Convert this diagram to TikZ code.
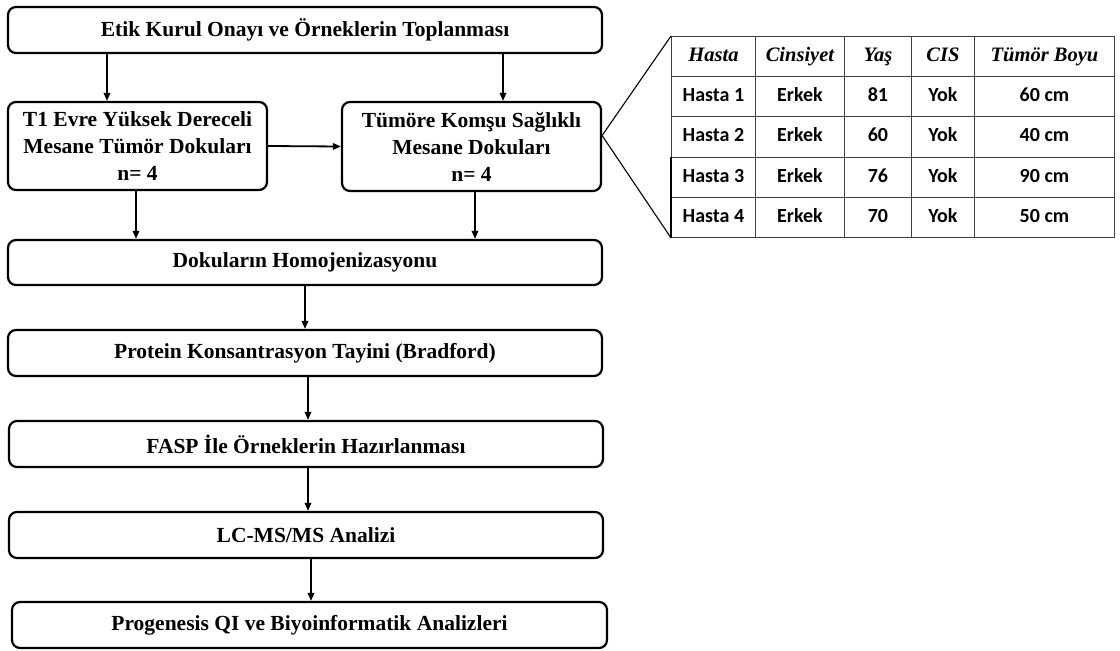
\documentclass[tikz,border=0pt]{standalone}
\usepackage{fontspec}
\setmainfont{Liberation Serif}
\newfontfamily\tabsans{Carlito}
\usetikzlibrary{arrows.meta}
\begin{document}
\begin{tikzpicture}[x=1pt,y=-1pt,
  box/.style={draw, line width=2.2pt, rounded corners=8pt,
    font=\fontsize{21.5}{27}\selectfont\bfseries, align=center, inner sep=0pt},
  arr/.style={line width=1.8pt, -{Triangle[length=8pt,width=6.5pt]}},
  cell/.style={draw=black!75, line width=0.9pt, inner sep=0pt,
    minimum height=40.2pt, text height=14pt, text depth=4pt, anchor=north west},
  hd/.style={cell, font=\fontsize{20.5}{24}\selectfont\bfseries\itshape},
  bd/.style={cell, font=\tabsans\fontsize{20}{24}\selectfont\bfseries},
  link/.style={line width=1.1pt}]
\useasboundingbox (0,0) rectangle (1120,651);

% workflow boxes
\node[box, minimum width=594pt, minimum height=46pt] (etik) at (305,30)
  {Etik Kurul Onayı ve Örneklerin Toplanması};
\node[box, minimum width=259pt, minimum height=88pt] (tumor) at (137.5,146)
  {T1 Evre Yüksek Dereceli\\Mesane Tümör Dokuları\\n= 4};
\node[box, minimum width=259pt, minimum height=89pt] (komsu) at (471.5,146.5)
  {Tümöre Komşu Sağlıklı\\Mesane Dokuları\\n= 4};
\node[box, minimum width=594pt, minimum height=45pt] (homo) at (305,262.5)
  {Dokuların Homojenizasyonu};
\node[box, minimum width=594pt, minimum height=46pt] (prot) at (305,353)
  {Protein Konsantrasyon Tayini (Bradford)};
\node[box, minimum width=594pt, minimum height=46pt] (fasp) at (306,444)
  {FASP İle Örneklerin Hazırlanması};
\node[box, minimum width=594pt, minimum height=46pt] (lcms) at (306,535)
  {LC-MS/MS Analizi};
\node[box, minimum width=595pt, minimum height=46pt] (prog) at (309.5,625)
  {Progenesis QI ve Biyoinformatik Analizleri};

% x positions of the vertical connectors
\coordinate (xa) at (107,0);
\coordinate (xb) at (503,0);
\coordinate (xc) at (136,0);
\coordinate (xd) at (475,0);
\coordinate (xe) at (305,0);
\coordinate (xf) at (308,0);
\coordinate (xg) at (311,0);

\draw[arr] (etik.south -| xa) -- (tumor.north -| xa);
\draw[arr] (etik.south -| xb) -- (komsu.north -| xb);
\draw[arr] (tumor.east) -- (komsu.west);
\draw[arr] (tumor.south -| xc) -- (homo.north -| xc);
\draw[arr] (komsu.south -| xd) -- (homo.north -| xd);
\draw[arr] (homo.south -| xe) -- (prot.north -| xe);
\draw[arr] (prot.south -| xf) -- (fasp.north -| xf);
\draw[arr] (fasp.south -| xf) -- (lcms.north -| xf);
\draw[arr] (lcms.south -| xg) -- (prog.north -| xg);

% patient table
\node[hd, minimum width=84pt]  (h1) at (671,36) {Hasta};
\node[hd, minimum width=89pt]  (h2) at (755,36) {Cinsiyet};
\node[hd, minimum width=67pt]  (h3) at (844,36) {Yaş};
\node[hd, minimum width=63pt]  (h4) at (911,36) {CIS};
\node[hd, minimum width=140pt] (h5) at (974,36) {Tümör Boyu};

\node[bd, minimum width=84pt]  (r1c1) at (671,76.2) {Hasta 1};
\node[bd, minimum width=89pt]  (r1c2) at (755,76.2) {Erkek};
\node[bd, minimum width=67pt]  (r1c3) at (844,76.2) {81};
\node[bd, minimum width=63pt]  (r1c4) at (911,76.2) {Yok};
\node[bd, minimum width=140pt] (r1c5) at (974,76.2) {60 cm};

\node[bd, minimum width=84pt]  (r2c1) at (671,116.4) {Hasta 2};
\node[bd, minimum width=89pt]  (r2c2) at (755,116.4) {Erkek};
\node[bd, minimum width=67pt]  (r2c3) at (844,116.4) {60};
\node[bd, minimum width=63pt]  (r2c4) at (911,116.4) {Yok};
\node[bd, minimum width=140pt] (r2c5) at (974,116.4) {40 cm};

\node[bd, minimum width=84pt]  (r3c1) at (671,156.6) {Hasta 3};
\node[bd, minimum width=89pt]  (r3c2) at (755,156.6) {Erkek};
\node[bd, minimum width=67pt]  (r3c3) at (844,156.6) {76};
\node[bd, minimum width=63pt]  (r3c4) at (911,156.6) {Yok};
\node[bd, minimum width=140pt] (r3c5) at (974,156.6) {90 cm};

\node[bd, minimum width=84pt]  (r4c1) at (671,196.8) {Hasta 4};
\node[bd, minimum width=89pt]  (r4c2) at (755,196.8) {Erkek};
\node[bd, minimum width=67pt]  (r4c3) at (844,196.8) {70};
\node[bd, minimum width=63pt]  (r4c4) at (911,196.8) {Yok};
\node[bd, minimum width=140pt] (r4c5) at (974,196.8) {50 cm};

\draw[line width=1.6pt] (r3c1.north west) -- (r4c1.south west);

% lines fanning out from the healthy-tissue box to the table
\coordinate (apex) at ([yshift=11pt]komsu.east);
\draw[link] (apex) -- (h1.north west);
\draw[link] (apex) -- (r4c1.south west);
\end{tikzpicture}
\end{document}
